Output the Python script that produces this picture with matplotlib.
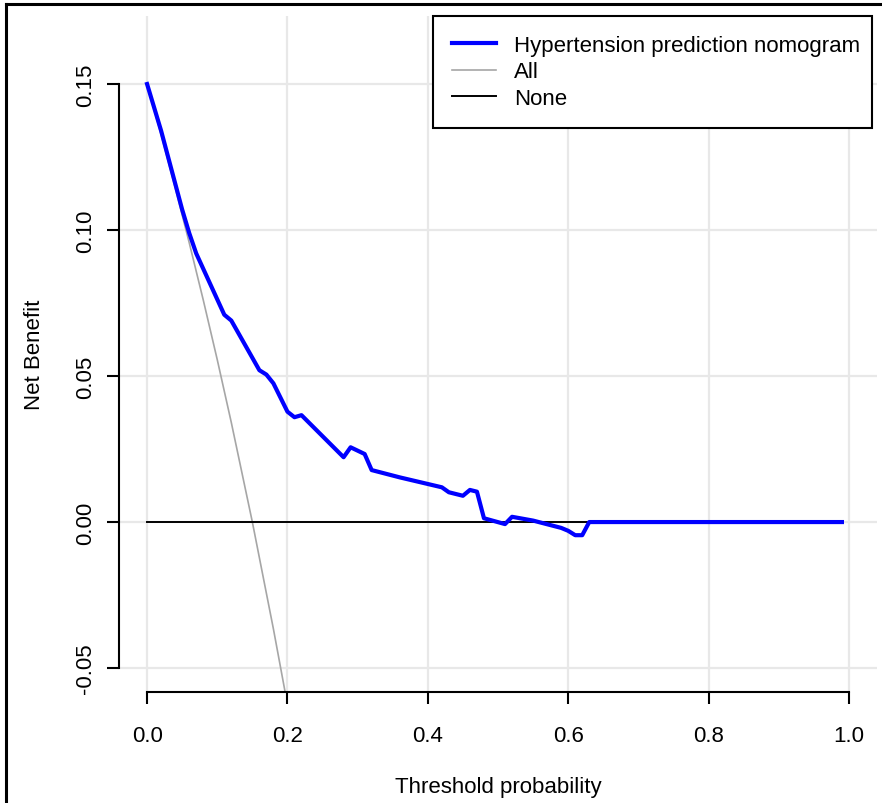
import matplotlib
matplotlib.use("Agg")
import matplotlib.pyplot as plt
from matplotlib.lines import Line2D

plt.rcParams["font.family"] = ["Liberation Sans", "DejaVu Sans"]

# decision curve values
thresh = [0.00, 0.01, 0.02, 0.03, 0.04, 0.05, 0.06, 0.07, 0.11, 0.12, 0.16,
          0.17, 0.18, 0.20, 0.21, 0.22, 0.28, 0.29, 0.31, 0.32, 0.36, 0.42,
          0.43, 0.45, 0.46, 0.47, 0.48, 0.51, 0.52, 0.55, 0.59, 0.60, 0.61,
          0.62, 0.63, 0.99]
nb_model = [0.150, 0.142, 0.134, 0.125, 0.116, 0.107, 0.099, 0.092, 0.071,
            0.069, 0.052, 0.0505, 0.0475, 0.0378, 0.0359, 0.0366, 0.0222,
            0.0256, 0.0233, 0.0178, 0.0153, 0.0119, 0.0102, 0.0090, 0.0110,
            0.0104, 0.0013, -0.0007, 0.0018, 0.0005, -0.0020, -0.0030,
            -0.0045, -0.0045, 0.0, 0.0]

thresh_all = [0.00, 0.02, 0.04, 0.06, 0.08, 0.10, 0.12, 0.15, 0.18, 0.20, 0.25]
nb_all = [0.150, 0.1327, 0.1146, 0.0957, 0.0761, 0.0556, 0.0341, 0.000,
          -0.0366, -0.0625, -0.133]

thresh_none = [0.00, 0.99]
nb_none = [0.0, 0.0]

xticks = [0.0, 0.2, 0.4, 0.6, 0.8, 1.0]
yticks = [-0.05, 0.00, 0.05, 0.10, 0.15]

W, H = 882, 804
fig = plt.figure(figsize=(W / 100, H / 100), dpi=100)
ax = fig.add_axes([119 / W, (H - 693) / H, (877 - 119) / W, (693 - 17) / H])

ax.set_xlim(-0.04, 1.04)
ax.set_ylim(-0.0582, 0.1733)

for x in xticks:
    ax.axvline(x, color="#e8e8e8", lw=1.6, zorder=0)
for y in yticks:
    ax.axhline(y, color="#e8e8e8", lw=1.6, zorder=0)

ax.plot(thresh, nb_model, color="#0000ff", lw=3.0, zorder=4,
        label="Hypertension prediction nomogram")
ax.plot(thresh_all, nb_all, color="#a6a6a6", lw=1.2, zorder=2, label="All")
ax.plot(thresh_none, nb_none, color="black", lw=1.4, zorder=3, label="None")

for s in ["top", "right"]:
    ax.spines[s].set_visible(False)
ax.spines["left"].set_bounds(-0.05, 0.15)
ax.spines["bottom"].set_bounds(0, 1)
for s in ["left", "bottom"]:
    ax.spines[s].set_linewidth(1.5)

ax.set_xticks(xticks)
ax.set_xticklabels(["0.0", "0.2", "0.4", "0.6", "0.8", "1.0"])
ax.set_yticks(yticks)
ax.set_yticklabels(["-0.05", "0.00", "0.05", "0.10", "0.15"], rotation=90, va="center")
ax.tick_params(axis="both", direction="out", length=8.5, width=1.5, labelsize=16)
ax.tick_params(axis="x", pad=15)
ax.tick_params(axis="y", pad=8)

ax.set_xlabel("Threshold probability", fontsize=16, labelpad=22)
ax.set_ylabel("Net Benefit", fontsize=16, labelpad=22)

leg = ax.legend(loc="upper left", bbox_to_anchor=(433 / W, (H - 123) / H, (872 - 433) / W, 106 / H),
                bbox_transform=fig.transFigure, mode="expand", borderaxespad=0,
                fontsize=16, handlelength=2.0, handletextpad=0.8, borderpad=0.85,
                labelspacing=0.25, fancybox=False, framealpha=1)
leg.get_frame().set_edgecolor("black")
leg.get_frame().set_linewidth(1.5)

# outer border of the original image (top and left only)
fig.add_artist(Line2D([6 / W, 6 / W], [0, 1 - 5 / H], transform=fig.transFigure, color="black", lw=2.2))
fig.add_artist(Line2D([6 / W, 1], [1 - 5 / H, 1 - 5 / H], transform=fig.transFigure, color="black", lw=2.2))

fig.savefig("out.png", dpi=100)
